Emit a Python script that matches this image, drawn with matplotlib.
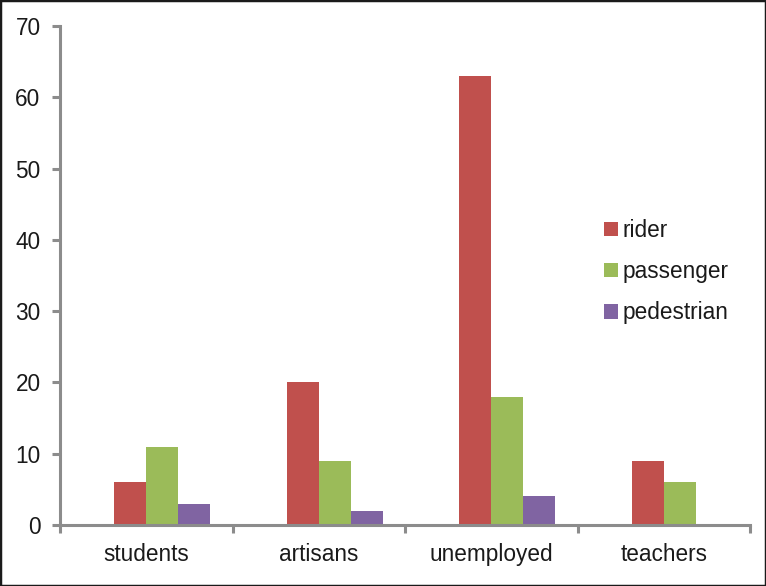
import matplotlib
matplotlib.use("Agg")
import matplotlib.pyplot as plt
import numpy as np
from matplotlib.patches import Rectangle

categories = ["students", "artisans", "unemployed", "teachers"]
series_names = ["rider", "passenger", "pedestrian"]
rider = [6, 20, 63, 9]
passenger = [11, 9, 18, 6]
pedestrian = [3, 2, 4, 0]
colors = ["#C0504D", "#9BBB59", "#8064A2"]
yticks = [0, 10, 20, 30, 40, 50, 60, 70]

plt.rcParams['font.family'] = ['Liberation Sans', 'DejaVu Sans']
W, H = 766, 586
fig = plt.figure(figsize=(W/100, H/100), dpi=100)
ax = fig.add_axes([60/W, (H-525)/H, (750-60)/W, (525-26)/H])

x = np.arange(len(categories))
bw = 32/172.5
offsets = [-0.5, 0.5, 1.5]
for vals, off, c, name in zip([rider, passenger, pedestrian], offsets, colors, series_names):
    ax.bar(x + off*bw, vals, width=bw, color=c, label=name, linewidth=0)

fs = 16.3
ax.set_xlim(-0.5, len(categories)-0.5)
ax.set_ylim(0, 70)
ax.set_yticks(yticks)
ax.set_xticks(x)
ax.set_xticklabels(categories)
ax.set_xticks(np.arange(len(categories)+1)-0.5, minor=True)
axis_col = "#8c8c8c"
for s in ["top", "right"]:
    ax.spines[s].set_visible(False)
for s in ["left", "bottom"]:
    ax.spines[s].set_color(axis_col)
    ax.spines[s].set_linewidth(2.2)
ax.tick_params(axis='x', which='major', length=0, pad=13, labelsize=fs, labelcolor="#1a1a1a")
ax.tick_params(axis='x', which='minor', length=6, width=2.2, color=axis_col, direction='out')
ax.tick_params(axis='y', length=6, width=2.2, color=axis_col, direction='out', pad=8, labelsize=fs, labelcolor="#1a1a1a")

leg = ax.legend(loc='upper left', bbox_to_anchor=(604/W, (H-219)/H), bbox_transform=fig.transFigure,
                frameon=False, fontsize=fs, handlelength=0.62, handleheight=0.62,
                handletextpad=0.2, labelspacing=0.8, borderaxespad=0, borderpad=0)
for t in leg.get_texts():
    t.set_color("#1a1a1a")

fig.patches.append(Rectangle((0, 0), 1, 1, transform=fig.transFigure, fill=False,
                             edgecolor="#1a1a1a", linewidth=2.5))
fig.savefig("out.png", dpi=100)
